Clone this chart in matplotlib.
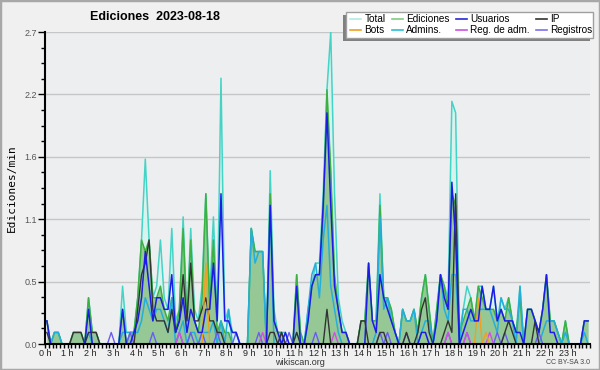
import numpy as np
import matplotlib
matplotlib.use("Agg")
import matplotlib.pyplot as plt
import matplotlib.lines as mlines
from matplotlib.patches import Rectangle
from matplotlib.ticker import MultipleLocator

# edits per minute, one value per 10-minute slot (6 per hour)
hours = [f"{h} h" for h in range(24)]

total = [0.2, 0, 0.1, 0.1, 0, 0,  0, 0.1, 0.1, 0.1, 0, 0.4,
         0.1, 0.1, 0, 0, 0, 0,  0, 0, 0.5, 0.1, 0.1, 0.1,
         0.4, 0.9, 1.6, 0.9, 0.4, 0.5,  0.9, 0.4, 0.3, 1.0, 0.2, 0.3,
         1.1, 0.2, 1.0, 0.3, 0.2, 0.5,  1.3, 0.4, 1.1, 0.2, 2.3, 0.2,
         0.3, 0.1, 0.1, 0, 0, 0,  1.0, 0.8, 0.8, 0.8, 0, 1.5,
         0.3, 0.1, 0.1, 0.1, 0, 0,  0.6, 0.1, 0, 0.3, 0.5, 0.7,
         0.7, 1.3, 2.2, 2.7, 1.3, 0.4,  0.2, 0.1, 0, 0, 0, 0.2,
         0.2, 0.7, 0.2, 0.2, 1.3, 0.4,  0.4, 0.3, 0.1, 0, 0.3, 0.2,
         0.2, 0.3, 0.1, 0.4, 0.6, 0.3,  0, 0.3, 0.6, 0.5, 0.4, 2.1,
         2.0, 0.1, 0.3, 0.5, 0.4, 0.2,  0.5, 0.5, 0.3, 0.3, 0.5, 0.2,
         0.4, 0.3, 0.4, 0.2, 0.1, 0.5,  0, 0.3, 0.3, 0.2, 0.1, 0.3,
         0.6, 0.2, 0.2, 0.1, 0, 0.2,  0, 0, 0, 0, 0.2, 0.2]

ediciones = [0.2, 0, 0.1, 0.1, 0, 0,  0, 0.1, 0.1, 0.1, 0, 0.4,
             0.1, 0.1, 0, 0, 0, 0,  0, 0, 0.3, 0, 0.1, 0.1,
             0.4, 0.9, 0.8, 0.9, 0.4, 0.4,  0.5, 0.3, 0.2, 0.4, 0.1, 0.3,
             1.0, 0.2, 0.9, 0.2, 0.1, 0.4,  1.3, 0.3, 0.9, 0.1, 0.2, 0.1,
             0.1, 0, 0, 0, 0, 0,  1.0, 0.8, 0.8, 0.8, 0, 1.3,
             0.2, 0.1, 0.1, 0, 0, 0,  0.6, 0.1, 0, 0.2, 0.5, 0.6,
             0.6, 1.1, 2.2, 1.5, 0.6, 0.3,  0.1, 0.1, 0, 0, 0, 0.2,
             0.2, 0.7, 0.2, 0.2, 1.2, 0.4,  0.4, 0.3, 0.1, 0, 0.3, 0.2,
             0.2, 0.3, 0.1, 0.4, 0.6, 0.3,  0, 0.3, 0.6, 0.5, 0.3, 1.3,
             1.2, 0.1, 0.2, 0.3, 0.4, 0.2,  0.5, 0.4, 0.3, 0.3, 0.3, 0.2,
             0.3, 0.2, 0.4, 0.2, 0.1, 0.4,  0, 0.3, 0.3, 0.2, 0.1, 0.3,
             0.6, 0.2, 0.2, 0.1, 0, 0.2,  0, 0, 0, 0, 0.2, 0.2]

usuarios = [0.2, 0, 0, 0, 0, 0,  0, 0, 0, 0, 0, 0.3,
            0, 0, 0, 0, 0, 0,  0, 0, 0.3, 0, 0, 0.1,
            0.2, 0.4, 0.8, 0.5, 0.2, 0.4,  0.4, 0.3, 0.3, 0.6, 0.1, 0.2,
            0.4, 0.1, 0.3, 0.2, 0.1, 0.1,  0.3, 0.3, 0.7, 0.2, 1.3, 0.2,
            0.2, 0.1, 0.1, 0, 0, 0,  0, 0, 0, 0, 0, 1.2,
            0.2, 0.1, 0, 0.1, 0, 0,  0.5, 0, 0, 0.2, 0.5, 0.6,
            0.6, 1.2, 2.0, 1.2, 0.5, 0.3,  0.1, 0.1, 0, 0, 0, 0,
            0, 0.7, 0.2, 0.1, 0.6, 0.4,  0.3, 0.2, 0.1, 0, 0, 0,
            0, 0, 0, 0.1, 0.1, 0,  0, 0.2, 0.6, 0.4, 0.3, 1.4,
            0.9, 0, 0.1, 0.2, 0.3, 0.2,  0.2, 0.5, 0.3, 0.3, 0.5, 0.2,
            0.3, 0.2, 0.2, 0.2, 0.1, 0.1,  0, 0.3, 0.3, 0.2, 0.1, 0.3,
            0.6, 0.1, 0.1, 0, 0, 0,  0, 0, 0, 0, 0.2, 0.2]

ip = [0.1, 0, 0, 0, 0, 0,  0, 0.1, 0.1, 0.1, 0, 0.1,
      0.1, 0.1, 0, 0, 0, 0,  0, 0, 0, 0, 0, 0,
      0.3, 0.6, 0.7, 0.9, 0.3, 0.2,  0.2, 0.2, 0.1, 0.3, 0.1, 0.2,
      0.6, 0.2, 0.7, 0.2, 0.2, 0.3,  0.4, 0.2, 0.2, 0.1, 0.1, 0,
      0, 0, 0, 0, 0, 0,  0, 0, 0, 0, 0, 0.1,
      0.1, 0, 0.1, 0, 0, 0,  0.1, 0, 0, 0, 0, 0,
      0, 0, 0.3, 0, 0, 0,  0, 0, 0, 0, 0, 0.2,
      0.2, 0, 0, 0, 0.1, 0.1,  0, 0, 0, 0, 0, 0.1,
      0, 0, 0.1, 0.3, 0.4, 0.1,  0, 0, 0, 0.1, 0.2, 0.1,
      1.3, 0, 0, 0, 0, 0,  0, 0, 0, 0, 0, 0,
      0, 0.1, 0.2, 0.1, 0, 0,  0, 0, 0, 0.2, 0, 0,
      0, 0, 0, 0, 0, 0,  0, 0, 0, 0, 0, 0]

admins = [0, 0, 0.1, 0.1, 0, 0,  0, 0, 0, 0, 0, 0.1,
          0, 0, 0, 0, 0, 0,  0, 0, 0.1, 0.1, 0.1, 0.1,
          0.1, 0.2, 0.4, 0.3, 0.2, 0.3,  0.3, 0.2, 0.1, 0.4, 0, 0.1,
          0.2, 0, 0.1, 0.1, 0, 0.1,  0.1, 0.1, 0.2, 0, 0.2, 0,
          0.3, 0, 0, 0, 0, 0,  1.0, 0.7, 0.8, 0.8, 0, 1.2,
          0, 0, 0, 0, 0, 0,  0.1, 0, 0, 0.3, 0.6, 0.7,
          0.4, 0.9, 1.2, 0.5, 0.3, 0.1,  0, 0, 0, 0, 0, 0,
          0, 0, 0, 0.1, 1.1, 0.3,  0.4, 0.2, 0.1, 0, 0.3, 0.2,
          0.2, 0.3, 0, 0.1, 0.2, 0.2,  0, 0.2, 0.6, 0.3, 0.2, 0.6,
          0.6, 0, 0.3, 0.3, 0.2, 0.2,  0.3, 0.3, 0.3, 0.3, 0.2, 0.1,
          0.4, 0.3, 0.3, 0.2, 0, 0.5,  0, 0, 0, 0, 0, 0.1,
          0.2, 0.2, 0.2, 0.1, 0, 0.1,  0, 0, 0, 0, 0.1, 0]

bots = [0] * 144
for i, v in [(42, 0.7), (114, 0.4), (116, 0.1)]:
    bots[i] = v

registros = [0] * 144
for i in [17, 22, 28, 35, 38, 41, 45, 50, 56, 62, 64, 71, 88, 90, 95,
          106, 111, 119, 121, 130]:
    registros[i] = 0.1

reg_adm = [0] * 144
for i in [35, 57, 76, 106, 111, 117]:
    reg_adm[i] = 0.1

t = (np.arange(144) + 0.5) / 6

fig = plt.figure(figsize=(6, 3.7), dpi=100, facecolor="#f0f0f0")
ax = fig.add_axes([45 / 600, 26 / 370, 545 / 600, 312 / 370])
ax.set_facecolor("#edeef0")

ax.fill_between(t, total, color="#d8f3ee", lw=0)
ax.plot(t, total, color="#44d4c6", lw=1.1)
ax.fill_between(t, ediciones, color="#96c896", lw=0)
ax.plot(t, ediciones, color="#3cb040", lw=1.1)
ax.plot(t, admins, color="#26aedb", lw=1.1)
ax.plot(t, registros, color="#6a5cf0", lw=1.0)
ax.plot(t, reg_adm, color="#d050e0", lw=1.0)
ax.plot(t, ip, color="#333333", lw=1.0)
ax.plot(t, bots, color="#f0a020", lw=1.0)
ax.plot(t, usuarios, color="#1c1ce6", lw=1.1)

ax.set_xlim(0, 24)
ax.set_ylim(0, 2.7)
yt = np.linspace(0, 2.7, 6)
ax.set_yticks(yt)
ax.set_yticklabels([f"{v:.1f}" for v in yt])
ax.yaxis.set_minor_locator(MultipleLocator(0.135))
ax.set_xticks(range(24))
ax.set_xticklabels(hours)
ax.xaxis.set_minor_locator(MultipleLocator(1 / 6))
ax.grid(axis="y", color="#c6c6c6", lw=1)
ax.set_axisbelow(True)

for s in ["top", "right"]:
    ax.spines[s].set_visible(False)
for s in ["left", "bottom"]:
    ax.spines[s].set_linewidth(1.5)
    ax.spines[s].set_color("black")

ax.tick_params(axis="y", which="major", length=5, width=1, pad=1,
               labelsize=6.5, labelcolor="#555555")
ax.tick_params(axis="y", which="minor", length=3, width=1)
ax.tick_params(axis="x", which="both", length=3, width=1, pad=0.5,
               labelsize=6.5, labelcolor="#222222")
for lab in ax.get_xticklabels() + ax.get_yticklabels():
    lab.set_family("Liberation Sans")

ax.set_ylabel("Ediciones/min", family="DejaVu Sans Mono", fontsize=8, labelpad=5)

fig.text(0.258, 0.953, "Ediciones  2023-08-18", ha="center", va="center",
         fontsize=9, fontweight="bold", family="Liberation Sans")
fig.text(0.5, 0.019, "wikiscan.org", ha="center", va="center",
         fontsize=6.5, color="#333333", family="Liberation Sans")
fig.text(0.983, 0.019, "CC BY-SA 3.0", ha="right", va="center",
         fontsize=5, color="#444444", family="Liberation Sans")

# legend box with offset shadow
fig.patches.append(Rectangle((343 / 600, 1 - 41 / 370), 247 / 600, 26 / 370,
                             transform=fig.transFigure, facecolor="#808080",
                             edgecolor="none", zorder=5))
fig.patches.append(Rectangle((346 / 600, 1 - 38 / 370), 247 / 600, 26 / 370,
                             transform=fig.transFigure, facecolor="white",
                             edgecolor="#a0a0a0", lw=1, zorder=6))

names = ["Total", "Bots", "Ediciones", "Admins.", "Usuarios", "Reg. de adm.",
         "IP", "Registros"]
colors = ["#b4eae2", "#f0a020", "#80cc80", "#26c0d8", "#2828d8", "#d050e0",
          "#333333", "#7a70f0"]
handles = [mlines.Line2D([], [], color=c, lw=1.2, label=n)
           for n, c in zip(names, colors)]
leg = fig.legend(handles=handles, ncol=4, loc="upper left",
                 bbox_to_anchor=(347 / 600, 1 - 11.5 / 370), frameon=False,
                 prop={"family": "Liberation Sans", "size": 7.2},
                 handlelength=1.1, handletextpad=0.35, columnspacing=0.6,
                 labelspacing=0.05, borderpad=0.3, borderaxespad=0)
leg.set_zorder(7)

fig.patches.append(Rectangle((0, 0), 1, 1, transform=fig.transFigure, fill=False,
                             edgecolor="#a8a8a8", lw=2.5))

plt.savefig("out.png", dpi=100, facecolor=fig.get_facecolor())
